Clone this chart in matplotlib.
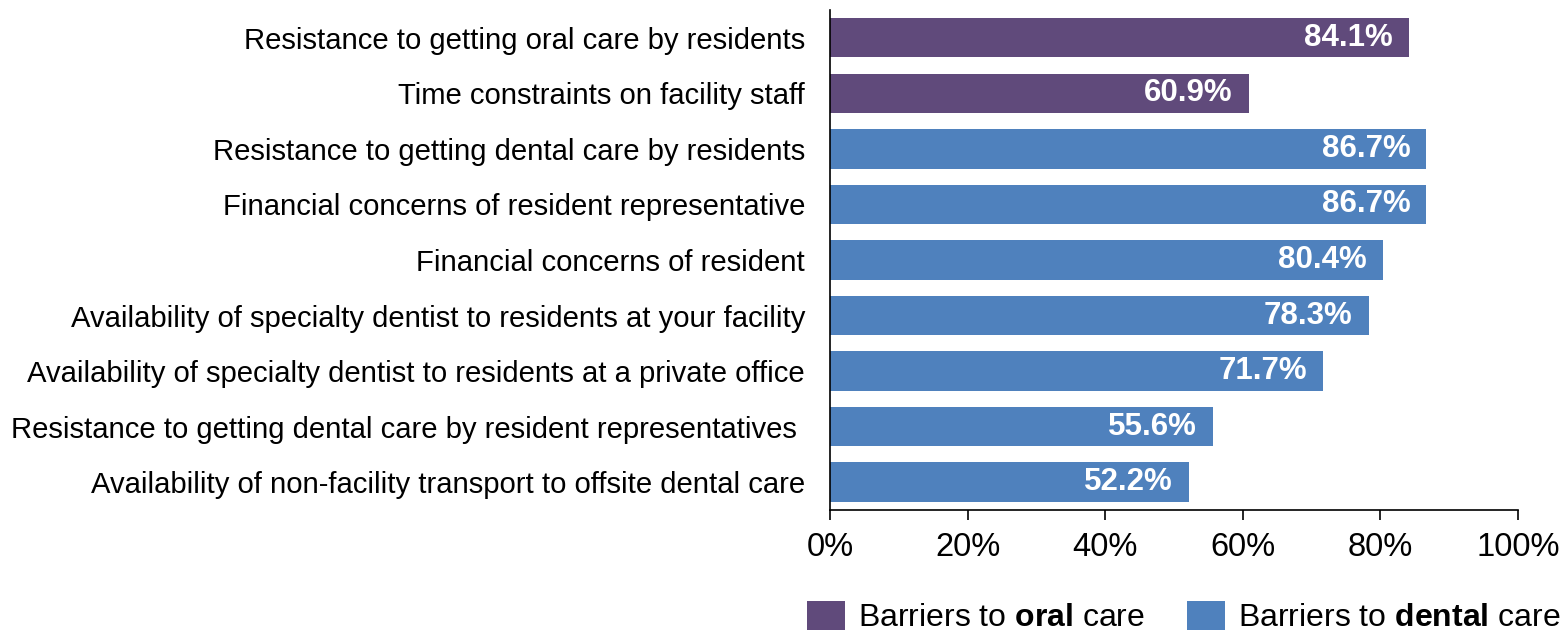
import matplotlib
matplotlib.use("Agg")
import matplotlib.pyplot as plt
from matplotlib.patches import Patch

plt.rcParams["font.family"] = ["Liberation Sans", "DejaVu Sans"]
plt.rcParams["mathtext.fontset"] = "custom"
plt.rcParams["mathtext.rm"] = "Liberation Sans"
plt.rcParams["mathtext.bf"] = "Liberation Sans:bold"

categories = [
    "Resistance to getting oral care by residents",
    "Time constraints on facility staff",
    "Resistance to getting dental care by residents",
    "Financial concerns of resident representative",
    "Financial concerns of resident",
    "Availability of specialty dentist to residents at your facility",
    "Availability of specialty dentist to residents at a private office",
    "Resistance to getting dental care by resident representatives ",
    "Availability of non-facility transport to offsite dental care",
]
values = [84.1, 60.9, 86.7, 86.7, 80.4, 78.3, 71.7, 55.6, 52.2]
groups = ["oral", "oral", "dental", "dental", "dental", "dental", "dental", "dental", "dental"]
x_ticks = [0, 20, 40, 60, 80, 100]

group_colors = {"oral": "#604A7B", "dental": "#4F81BD"}
legend_labels = {
    "oral": r"Barriers to $\mathbf{oral}$ care",
    "dental": r"Barriers to $\mathbf{dental}$ care",
}

W, H = 1561, 632
fig = plt.figure(figsize=(W / 100, H / 100), dpi=100)
ax = fig.add_axes([830 / W, 1 - 510 / H, (1518 - 830) / W, 500 / H])

ypos = list(range(len(categories)))
colors = [group_colors[g] for g in groups]
bars = ax.barh(ypos, values, height=0.71, color=colors)

for bar, v in zip(bars, values):
    ax.annotate(f"{v:.1f}%", xy=(bar.get_width(), bar.get_y() + bar.get_height() / 2),
                xytext=(-16, 0), textcoords="offset pixels",
                ha="right", va="center", color="white", fontsize=22.5, fontweight="bold")

ax.set_ylim(len(categories) - 0.5, -0.5)
ax.set_xlim(0, 100)
ax.set_yticks(ypos)
ax.set_yticklabels(categories, fontsize=21.1)
ax.tick_params(axis="y", length=0, pad=18)
ax.set_xticks(x_ticks)
ax.set_xticklabels([f"{t}%" for t in x_ticks], fontsize=23.5)
ax.tick_params(axis="x", direction="out", length=7, width=1.2, pad=9)

for side in ("top", "right"):
    ax.spines[side].set_visible(False)
for side in ("left", "bottom"):
    ax.spines[side].set_color("black")
    ax.spines[side].set_linewidth(1.2)

handles = [Patch(facecolor=group_colors[g]) for g in ("oral", "dental")]
fig.legend(handles, [legend_labels[g] for g in ("oral", "dental")],
           loc="center left", bbox_to_anchor=(807 / W, 1 - 617 / H),
           ncol=2, frameon=False, fontsize=23, borderpad=0, borderaxespad=0,
           handlelength=1.2, handleheight=1.05, handletextpad=0.4, columnspacing=1.3)

fig.savefig("out.png", dpi=100)
